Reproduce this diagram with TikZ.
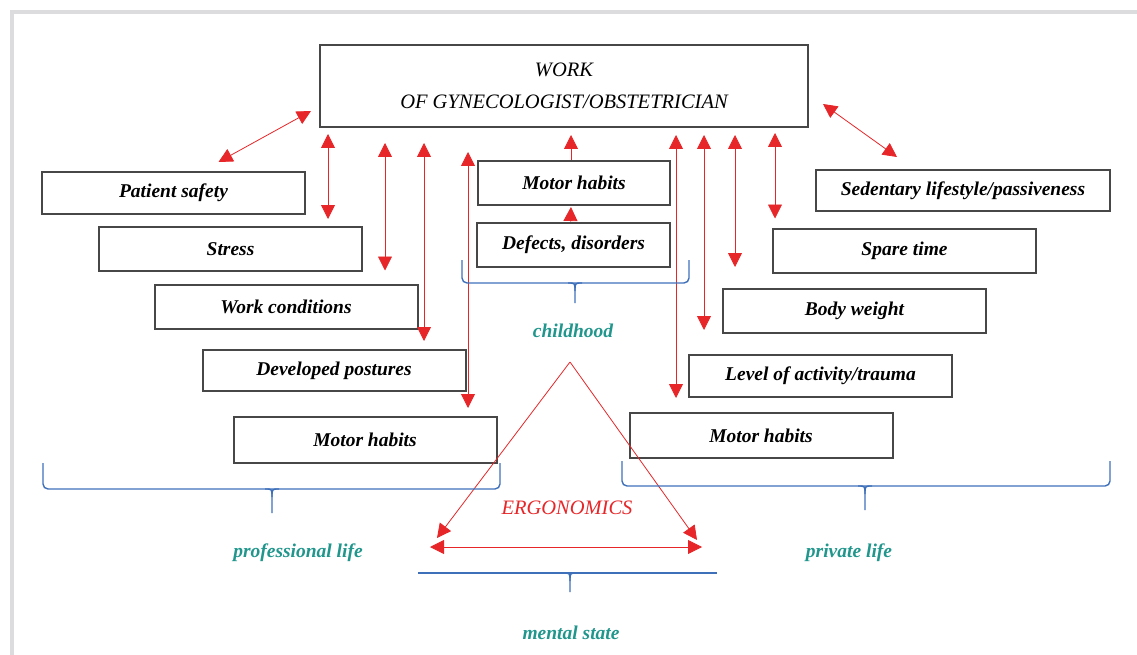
\documentclass[tikz,border=0pt]{standalone}
\usepackage{fontspec}
\setmainfont{Liberation Serif}
\usetikzlibrary{arrows.meta}
\definecolor{arrowred}{RGB}{230,38,40}
\definecolor{bracebl}{RGB}{62,112,186}
\definecolor{labelteal}{RGB}{32,150,140}
\definecolor{framegray}{RGB}{220,220,222}
\begin{document}
\begin{tikzpicture}[x=1pt, y=-1pt,
  box/.style={draw=black!72, line width=2pt, minimum height=44pt, minimum width=263pt, inner sep=0pt, font=\fontsize{19.5}{22}\selectfont\bfseries\itshape},
  dbl/.style={arrowred, line width=0.8pt, {Triangle[length=14pt,width=14pt]}-{Triangle[length=14pt,width=14pt]}},
  one/.style={arrowred, line width=0.8pt, -{Triangle[length=14pt,width=14pt]}},
  brace/.style={bracebl, line width=1.4pt, rounded corners=5pt},
  lbl/.style={text=labelteal, font=\fontsize{19.5}{22}\selectfont\bfseries\itshape}]
\useasboundingbox (0,0) rectangle (1137,655);
\fill[framegray] (10,10) rectangle (1137,14);
\fill[framegray] (10,10) rectangle (14,655);
% work box
\node[box, minimum width=488pt, minimum height=82pt, align=center, font=\fontsize{20.5}{22}\selectfont\itshape] (work) at (564,86) {WORK\\[10pt]OF GYNECOLOGIST/OBSTETRICIAN};
% professional life
\node[box, minimum height=42pt] (safety) at (173.5,193) {Patient safety};
\node[box] (stress) at (230.5,249) {Stress};
\node[box] (cond) at (286,306.5) {Work conditions};
\node[box, minimum height=41pt] (post) at (334,370.5) {Developed postures};
\node[box, minimum height=46pt] (habl) at (365,440) {Motor habits};
% childhood
\node[box, minimum width=192pt] (habc) at (574,183) {Motor habits};
\node[box, minimum width=193pt] (defect) at (573.5,244.5) {Defects, disorders};
% private life
\node[box, minimum width=294pt, minimum height=41pt] (sed) at (963,190.5) {Sedentary lifestyle/passiveness};
\node[box] (spare) at (904.5,250.5) {Spare time};
\node[box] (weight) at (854.5,311) {Body weight};
\node[box, minimum height=42pt] (level) at (820.5,376) {Level of activity/trauma};
\node[box, minimum height=45pt] (habr) at (761,435.5) {Motor habits};
% arrows to the work box
\draw[dbl] ([xshift=45pt,yshift=9pt]safety.north) -- ([xshift=-8pt,yshift=17pt]work.south west);
\draw[dbl] ([xshift=14pt,yshift=24pt]work.south east) -- ([xshift=-66pt,yshift=12pt]sed.north);
\foreach \n/\d/\u/\g in {stress/97.5/6/7, cond/99/15/13, post/90/15/8, habl/103/24/8,
    habr/-85/7/14, level/-116.5/7/24, weight/-119.5/7/21, spare/-129.5/5/9}
  \draw[dbl, shorten <=\u pt, shorten >=\g pt] ([xshift=\d pt]\n.north |- work.south) -- ([xshift=\d pt]\n.north);
\draw[one, shorten >=7pt] ([xshift=-3pt]habc.north) -- ([xshift=-3pt]habc.north |- work.south);
\draw[one, shorten >=1pt] ([xshift=-3pt]defect.north) -- ([xshift=-3pt]habc.south);
% ergonomics triangle
\node[text=arrowred, font=\fontsize{20.5}{22}\selectfont\itshape] (ergo) at (567,508) {ERGONOMICS};
\coordinate (apex) at (570,362);
\coordinate (tl) at (437,538);
\coordinate (tr) at (697,540);
\coordinate (bl) at (430,547);
\coordinate (br) at (702,547);
\draw[one] (apex) -- (tl);
\draw[one] (apex) -- (tr);
\draw[dbl] (bl) -- (br);
% braces: left/right/middle/top/line/tip
\foreach \a/\b/\m/\t/\h/\e in {43/500/272/463/489/513, 622/1110/865/461/486/510, 462/689/575/260/283/303} {
  \draw[brace] (\a,\t) -- (\a,\h) -- (\b,\h) -- (\b,\t);
  \draw[bracebl, line width=1.4pt] (\m-7,\h) .. controls (\m,\h) .. (\m,\h+8) -- (\m,\e);
  \draw[bracebl, line width=1.4pt] (\m+7,\h) .. controls (\m,\h) .. (\m,\h+8);
}
\draw[bracebl, line width=1.4pt] (418,573) -- (717,573);
\draw[bracebl, line width=1.4pt] (563,573) .. controls (570,573) .. (570,581) -- (570,592);
\draw[bracebl, line width=1.4pt] (577,573) .. controls (570,573) .. (570,581);
\node[lbl] (child) at (573,331) {childhood};
\node[lbl] (prof) at (298,553) {professional life};
\node[lbl] (priv) at (849,553) {private life};
\node[lbl] (mental) at (571,633) {mental state};
\end{tikzpicture}
\end{document}
